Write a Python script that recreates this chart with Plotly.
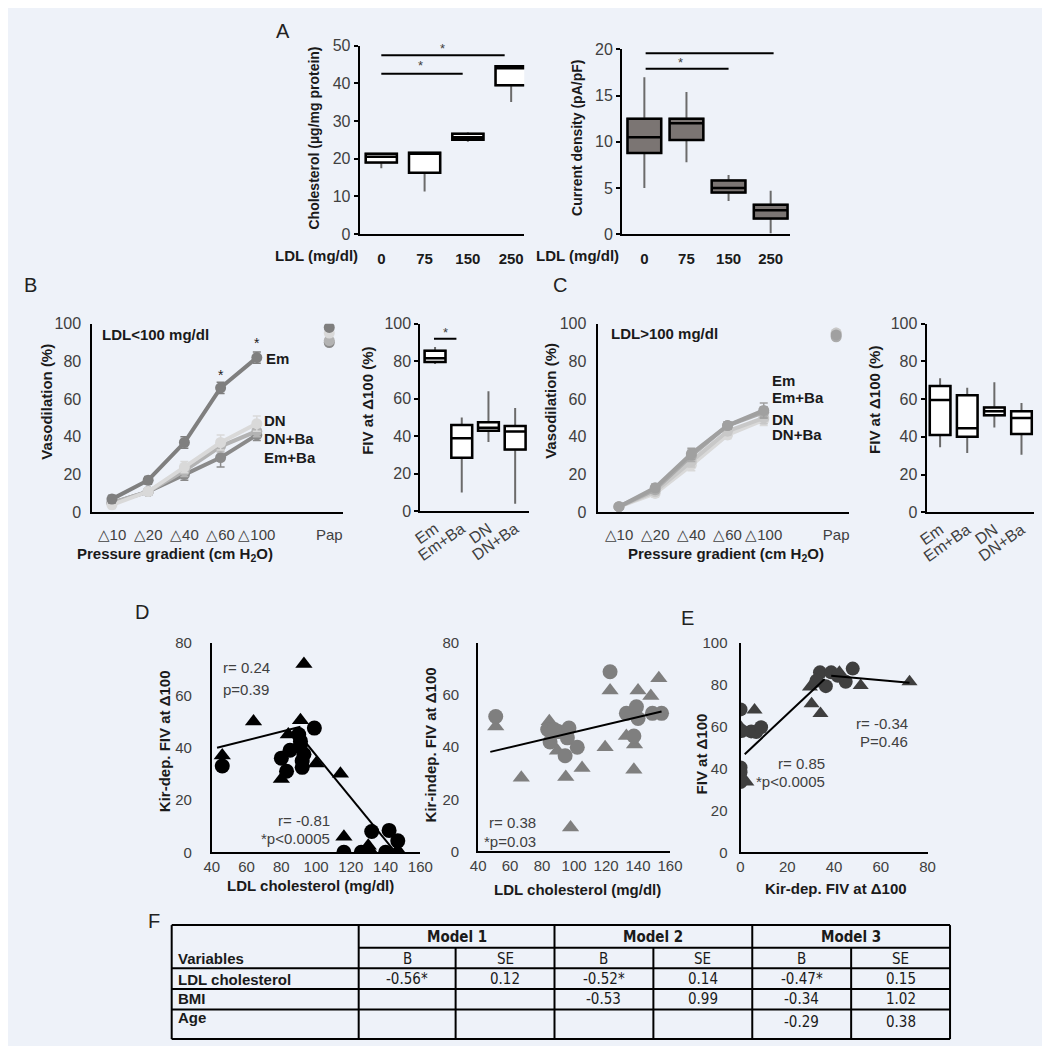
import plotly.graph_objects as go

W, H = 1050, 1046
BG = "#eef2f9"
FONT = "Liberation Sans, Arial, sans-serif"
NARROW = "Liberation Sans Narrow, Arial Narrow, DejaVu Sans Condensed, sans-serif"
TXT = "#404040"
DARK = "#1a1a1a"

# ---------------- data ----------------
ldl_doses = ["0", "75", "150", "250"]
box_pos = [1, 2, 3, 4]

# A: cholesterol content
chol_lo = [17.5, 11.3, 24.5, 35.0]
chol_q1 = [19.0, 16.3, 25.0, 39.5]
chol_med = [20.5, 21.5, 25.7, 44.0]
chol_q3 = [21.3, 21.6, 26.6, 44.5]
chol_hi = [21.6, 21.6, 27.0, 44.8]

# A: current density
cur_lo = [5.0, 7.8, 3.6, 0.1]
cur_q1 = [8.8, 10.2, 4.5, 1.7]
cur_med = [10.5, 12.0, 5.0, 2.6]
cur_q3 = [12.5, 12.5, 5.8, 3.2]
cur_hi = [17.0, 15.4, 6.4, 4.7]

# B / C: pressure gradient curves
grad_labels = ["△10", "△20", "△40", "△60", "△100", "Pap"]
grad_pos = [1, 2, 3, 4, 5]
pap_pos = [7]

b_em = [7, 17, 37, 66, 82]
b_em_err = [2, 2, 3, 3, 3]
b_emba = [5, 11, 20, 29, 41]
b_emba_err = [2, 2, 3, 5, 3]
b_dn = [4, 11, 24, 37, 47]
b_dn_err = [2, 2, 3, 4, 4]
b_dnba = [5, 11, 22, 35, 43]
b_dnba_err = [2, 2, 3, 3, 3]
b_pap = {"Em": 98, "Em+Ba": 90, "DN": 95, "DN+Ba": 91}

c_em = [3, 13, 31, 46, 54]
c_em_err = [1, 2, 3, 2, 4]
c_emba = [3, 12, 30, 46, 53]
c_emba_err = [1, 2, 3, 2, 3]
c_dn = [3, 11, 27, 43, 50]
c_dn_err = [1, 2, 3, 2, 3]
c_dnba = [3, 10, 25, 41, 49]
c_dnba_err = [1, 2, 3, 2, 3]
c_pap = {"Em": 94, "Em+Ba": 93, "DN": 95, "DN+Ba": 95}

groups = ["Em", "Em+Ba", "DN", "DN+Ba"]

# B / C: FIV at delta 100
b_fiv_lo = [78.5, 10, 37, 4]
b_fiv_q1 = [79.5, 28.5, 43, 33]
b_fiv_med = [81.5, 39, 44.5, 42.5]
b_fiv_q3 = [85.5, 46, 47.5, 45.5]
b_fiv_hi = [87.5, 50, 64, 55]

c_fiv_lo = [34.5, 31.5, 45, 30.5]
c_fiv_q1 = [41, 40, 51.5, 41.5]
c_fiv_med = [59.5, 44.5, 53.5, 50]
c_fiv_q3 = [67, 62, 55.5, 53.5]
c_fiv_hi = [71, 66, 69, 58]

# D: Kir-dependent FIV vs LDL
d_circ_x = [46, 80, 83, 85, 90, 91, 92, 92, 91, 99, 93, 116, 126, 128, 132, 142, 147, 140]
d_circ_y = [33, 36, 31, 39, 45, 41, 35, 32.5, 42.5, 47.5, 37.5, 0, 0, 0, 8, 8.4, 4.4, 0]
d_tri_x = [46, 64, 91, 93, 84, 80, 100, 114, 116, 130, 132, 146, 148]
d_tri_y = [37, 50, 50.5, 72, 45, 28, 34, 30, 6, 2.5, 0, 0, 0]
d_fit1_x = [43, 91]
d_fit1_y = [40, 48]
d_fit2_x = [89, 145]
d_fit2_y = [46, 0.6]

# E left: Kir-independent FIV vs LDL
e1_circ_x = [51, 83.5, 85, 90, 94.4, 96.8, 95.8, 102, 122.5, 132.7, 139, 140, 137.4, 149, 154.7, 87.6]
e1_circ_y = [51.8, 46.8, 42, 46, 36.7, 47.4, 43.6, 40, 69, 53, 55.5, 51, 44.3, 53, 53, 46.8]
e1_tri_x = [51, 67, 84.5, 89.6, 94.8, 97.8, 105, 119.4, 122.5, 132.7, 137.4, 137.8, 140, 148, 153]
e1_tri_y = [48, 28.3, 50, 38.6, 28.6, 9.2, 32, 40, 61.8, 44.3, 31.3, 41, 61.8, 59.7, 66.5]
e1_fit_x = [47.6, 154.7]
e1_fit_y = [38.2, 53.7]

# E right: FIV vs Kir-dependent FIV
e2_circ_x = [0, 0, 0, 0, 4.6, 6.7, 8.8, 0.5, 34, 38.8, 36.5, 45, 48, 41.6, 32.5]
e2_circ_y = [68.3, 40.6, 38.3, 33.6, 57.8, 57.5, 59.8, 58, 86, 86, 79.4, 81.5, 87.8, 84.4, 82]
e2_tri_x = [0, 2.5, 6, 29.7, 30.4, 34.2, 51.4, 72.3, 42.3]
e2_tri_y = [60, 33.6, 68, 79, 71, 66.4, 79.7, 81.5, 86]
e2_fit1_x = [1.8, 36]
e2_fit1_y = [46.9, 82.8]
e2_fit2_x = [38.8, 72.3]
e2_fit2_y = [84.4, 81]

# F: regression table
models = ["Model 1", "Model 2", "Model 3"]
sub_hdr = ["B", "SE", "B", "SE", "B", "SE"]
row_names = ["LDL cholesterol", "BMI", "Age"]
table_vals = [
    ["-0.56*", "0.12", "-0.52*", "0.14", "-0.47*", "0.15"],
    ["", "", "-0.53", "0.99", "-0.34", "1.02"],
    ["", "", "", "", "-0.29", "0.38"],
]


# ---------------- helpers ----------------
def px(x):
    return x / W


def py(y):
    return 1 - y / H


def xdom(a, b):
    return [px(a), px(b)]


def ydom(bottom, top):
    return [py(bottom), py(top)]


def axis(**kw):
    d = dict(showline=True, linecolor="black", linewidth=2, ticks="",
             ticklen=4, tickcolor="black", tickwidth=1.5, showgrid=False,
             zeroline=False, fixedrange=True,
             tickfont=dict(family=FONT, size=16, color=TXT))
    d.update(kw)
    return d


fig = go.Figure()
annots = []
shapes = []


def text(x, y, s, size=15, bold=False, color=DARK, angle=0, xanchor="center",
         family=FONT):
    annots.append(dict(x=px(x), y=py(y), xref="paper", yref="paper", text=s,
                       showarrow=False, textangle=angle, xanchor=xanchor,
                       yanchor="middle",
                       font=dict(family=family, size=size, color=color,
                                 weight="bold" if bold else "normal")))


def box_pair(ax, lo, q1, med, q3, hi, fill, width):
    # grey whiskers, then black box on top
    fig.add_trace(go.Box(x=box_pos, q1=q1, median=med, q3=q3, lowerfence=lo,
                         upperfence=hi, xaxis="x" + ax, yaxis="y" + ax,
                         line=dict(color="#6b6b6b", width=2), fillcolor=fill,
                         whiskerwidth=0, width=width, boxpoints=False,
                         hoverinfo="skip"))
    fig.add_trace(go.Box(x=box_pos, q1=q1, median=med, q3=q3, lowerfence=q1,
                         upperfence=q3, xaxis="x" + ax, yaxis="y" + ax,
                         line=dict(color="black", width=2.5), fillcolor=fill,
                         whiskerwidth=0, width=width, boxpoints=False))


def sig(ax, x0, x1, y, sx, sy):
    shapes.append(dict(type="line", xref="x" + ax, yref="y" + ax, x0=x0, x1=x1,
                       y0=y, y1=y, line=dict(color="black", width=2)))
    annots.append(dict(x=sx, y=sy, xref="x" + ax, yref="y" + ax, text="*",
                       showarrow=False,
                       font=dict(family=FONT, size=13, color=TXT)))


def curve(ax, yv, err, color, pap_y):
    fig.add_trace(go.Scatter(x=grad_pos, y=yv, xaxis="x" + ax, yaxis="y" + ax,
                             mode="lines+markers",
                             line=dict(color=color, width=4),
                             marker=dict(color=color, size=11),
                             error_y=dict(type="data", array=err, color=color,
                                          thickness=1.5, width=4)))
    fig.add_trace(go.Scatter(x=pap_pos, y=[pap_y], xaxis="x" + ax,
                             yaxis="y" + ax, mode="markers",
                             marker=dict(color=color, size=11)))


def scatter(ax, x, y, symbol, color, size):
    fig.add_trace(go.Scatter(x=x, y=y, xaxis="x" + ax, yaxis="y" + ax,
                             mode="markers",
                             marker=dict(symbol=symbol, color=color, size=size,
                                         line=dict(width=0))))


def fitline(ax, x, y):
    fig.add_trace(go.Scatter(x=x, y=y, xaxis="x" + ax, yaxis="y" + ax,
                             mode="lines", line=dict(color="black", width=2)))


# ---------------- panel A ----------------
box_pair("", chol_lo, chol_q1, chol_med, chol_q3, chol_hi, "white", 0.72)
box_pair("2", cur_lo, cur_q1, cur_med, cur_q3, cur_hi, "#7b7573", 0.8)
sig("", 1.0, 2.88, 42.5, 1.9, 44.6)
sig("", 1.0, 3.85, 47.4, 2.42, 49.2)
sig("2", 1.03, 3.0, 17.9, 1.87, 18.6)
sig("2", 1.03, 4.07, 19.6, 2.59, 20.3)

# ---------------- panel B / C curves ----------------
curve("3", b_emba, b_emba_err, "#8a8a8a", b_pap["Em+Ba"])
curve("3", b_dnba, b_dnba_err, "#b3b3b3", b_pap["DN+Ba"])
curve("3", b_dn, b_dn_err, "#d9d9d9", b_pap["DN"])
curve("3", b_em, b_em_err, "#7f7f7f", b_pap["Em"])
annots.append(dict(x=4, y=73, xref="x3", yref="y3", text="*", showarrow=False,
                   font=dict(family=FONT, size=14, color=DARK)))
annots.append(dict(x=5, y=90, xref="x3", yref="y3", text="*", showarrow=False,
                   font=dict(family=FONT, size=14, color=DARK)))

curve("5", c_dnba, c_dnba_err, "#d9d9d9", c_pap["DN+Ba"])
curve("5", c_dn, c_dn_err, "#c8c8c8", c_pap["DN"])
curve("5", c_emba, c_emba_err, "#ababab", c_pap["Em+Ba"])
curve("5", c_em, c_em_err, "#a0a0a0", c_pap["Em"])

box_pair("4", b_fiv_lo, b_fiv_q1, b_fiv_med, b_fiv_q3, b_fiv_hi, "white", 0.78)
sig("4", 0.96, 1.8, 92, 1.4, 95.5)
box_pair("6", c_fiv_lo, c_fiv_q1, c_fiv_med, c_fiv_q3, c_fiv_hi, "white", 0.76)

# ---------------- panel D / E ----------------
scatter("7", d_tri_x, d_tri_y, "triangle-up", "black", 15)
scatter("7", d_circ_x, d_circ_y, "circle", "black", 15)
fitline("7", d_fit1_x, d_fit1_y)
fitline("7", d_fit2_x, d_fit2_y)

scatter("8", e1_tri_x, e1_tri_y, "triangle-up", "#7f7f7f", 15)
scatter("8", e1_circ_x, e1_circ_y, "circle", "#7f7f7f", 15)
fitline("8", e1_fit_x, e1_fit_y)

scatter("9", e2_tri_x, e2_tri_y, "triangle-up", "#3f3f3f", 14)
scatter("9", e2_circ_x, e2_circ_y, "circle", "#3f3f3f", 14)
fitline("9", e2_fit1_x, e2_fit1_y)
fitline("9", e2_fit2_x, e2_fit2_y)

# ---------------- axes ----------------
bold_x = dict(family=FONT, size=15, color=DARK, weight="bold")
grad_font = dict(family=FONT, size=15, color=TXT)
sc_font = dict(family=FONT, size=15, color=TXT)
lay = {}
lay["xaxis"] = axis(domain=xdom(350, 518), range=[0.5, 4.3], tickvals=box_pos,
                    ticktext=ldl_doses, tickfont=bold_x, ticklabelstandoff=10,
                    anchor="y")
lay["yaxis"] = axis(domain=ydom(221, 29), range=[0, 50], dtick=10,
                    ticks="outside", anchor="x")
lay["xaxis2"] = axis(domain=xdom(618, 790), range=[0.47, 4.47], tickvals=box_pos,
                     ticktext=ldl_doses, tickfont=bold_x, ticklabelstandoff=10,
                     anchor="y2")
lay["yaxis2"] = axis(domain=ydom(221, 33), range=[0, 20], dtick=5,
                     ticks="outside", anchor="x2")

grad_ticks = grad_pos + pap_pos
lay["xaxis3"] = axis(domain=xdom(77, 333), range=[0.46, 7.38],
                     tickvals=grad_ticks, ticktext=grad_labels, tickangle=0,
                     tickfont=grad_font, ticklabelstandoff=8, anchor="y3")
lay["yaxis3"] = axis(domain=ydom(504, 312), range=[0, 100], dtick=20,
                     ticklabelstandoff=6, anchor="x3")
lay["xaxis4"] = axis(domain=xdom(412, 523), range=[0.45, 4.52],
                     tickvals=box_pos, ticktext=groups, tickangle=-35,
                     anchor="y4")
lay["yaxis4"] = axis(domain=ydom(503, 312), range=[0, 100], dtick=20,
                     ticks="outside", anchor="x4")
lay["xaxis5"] = axis(domain=xdom(593, 850), range=[0.41, 7.36],
                     tickvals=grad_ticks, ticktext=grad_labels, tickangle=0,
                     tickfont=grad_font, ticklabelstandoff=8, anchor="y5")
lay["yaxis5"] = axis(domain=ydom(504, 312), range=[0, 100], dtick=20,
                     ticklabelstandoff=6, anchor="x5")
lay["xaxis6"] = axis(domain=xdom(929, 1039), range=[0.5, 4.47],
                     tickvals=box_pos, ticktext=groups, tickangle=-35,
                     anchor="y6")
lay["yaxis6"] = axis(domain=ydom(504, 312), range=[0, 100], dtick=20,
                     ticks="outside", anchor="x6")

lay["xaxis7"] = axis(domain=xdom(199, 412), range=[40, 160], dtick=20,
                     tickfont=sc_font, anchor="y7")
lay["yaxis7"] = axis(domain=ydom(850, 637), range=[0, 80], dtick=20,
                     tickfont=sc_font, ticklabelstandoff=15, anchor="x7")
lay["xaxis8"] = axis(domain=xdom(471, 667), range=[40, 160], dtick=20,
                     tickfont=sc_font, anchor="y8")
lay["yaxis8"] = axis(domain=ydom(849, 637), range=[0, 80], dtick=20,
                     tickfont=sc_font, ticklabelstandoff=14, anchor="x8")
lay["xaxis9"] = axis(domain=xdom(739, 930), range=[0, 80], dtick=20,
                     tickfont=sc_font, anchor="y9")
lay["yaxis9"] = axis(domain=ydom(850, 637), range=[0, 100], dtick=20,
                     tickfont=sc_font, ticklabelstandoff=8, anchor="x9")

# ---------------- text labels ----------------
for s, x, y in [("A", 272, 14), ("B", 14, 273), ("C", 555, 273),
                ("D", 128, 605), ("E", 685, 612), ("F", 140, 920)]:
    text(x, y, s, size=20, color="#222222")

text(303, 123, "Cholesterol (µg/mg protein)", size=14, bold=True, angle=-90)
text(572, 123, "Current density (pA/pF)", size=14, bold=True, angle=-90)
text(306, 243, "LDL (mg/dl)", size=15, bold=True)
text(573, 243, "LDL (mg/dl)", size=15, bold=True)

text(30, 391, "Vasodilation (%)", size=15, bold=True, angle=-90)
text(161, 547, "Pressure gradient (cm H<sub>2</sub>O)", size=15, bold=True)
text(85, 323, "LDL<100 mg/dl", size=15, bold=True, xanchor="left")
text(252, 347, "Em", size=15, bold=True, xanchor="left")
text(250, 411, "DN", size=15, bold=True, xanchor="left")
text(250, 429, "DN+Ba", size=15, bold=True, xanchor="left")
text(250, 448, "Em+Ba", size=15, bold=True, xanchor="left")
text(358, 390, "FIV at Δ100 (%)", size=15, bold=True, angle=-90)

text(545, 391, "Vasodilation (%)", size=15, bold=True, angle=-90)
text(724, 547, "Pressure gradient (cm H<sub>2</sub>O)", size=15, bold=True)
text(605, 322, "LDL>100 mg/dl", size=15, bold=True, xanchor="left")
text(769, 370, "Em", size=15, bold=True, xanchor="left")
text(769, 387, "Em+Ba", size=15, bold=True, xanchor="left")
text(769, 410, "DN", size=15, bold=True, xanchor="left")
text(769, 425, "DN+Ba", size=15, bold=True, xanchor="left")
text(876, 390, "FIV at Δ100 (%)", size=15, bold=True, angle=-90)

text(150, 737, "Kir-dep. FIV at Δ100", size=15, bold=True, angle=-90)
text(300, 884, "LDL cholesterol (mg/dl)", size=15, bold=True)
text(208, 662, "r= 0.24", size=15, color=TXT, xanchor="left")
text(208, 684, "p=0.39", size=15, color=TXT, xanchor="left")
text(322, 818, "r= -0.81", size=15, color=TXT, xanchor="right")
text(322, 836, "*p<0.0005", size=15, color=TXT, xanchor="right")

text(422, 741, "Kir-indep. FIV at Δ100", size=15, bold=True, angle=-90)
text(573, 888, "LDL cholesterol (mg/dl)", size=15, bold=True)
text(532, 820, "r= 0.38", size=15, color=TXT, xanchor="right")
text(532, 839, "*p=0.03", size=15, color=TXT, xanchor="right")

text(699, 750, "FIV at Δ100", size=15, bold=True, angle=-90)
text(837, 887, "Kir-dep. FIV at Δ100", size=15, bold=True)
text(912, 719, "r= -0.34", size=15, color=TXT, xanchor="right")
text(912, 737, "P=0.46", size=15, color=TXT, xanchor="right")
text(827, 760, "r= 0.85", size=15, color=TXT, xanchor="right")
text(827, 778, "*p<0.0005", size=15, color=TXT, xanchor="right")

# ---------------- table F ----------------
cols = [158, 349, 448, 549, 650, 751, 852, 953]
rows = [924, 947, 968, 989, 1010, 1040]


def pline(x0, y0, x1, y1):
    shapes.append(dict(type="line", xref="paper", yref="paper", x0=px(x0),
                       y0=py(y0), x1=px(x1), y1=py(y1),
                       line=dict(color="black", width=2)))


pline(cols[0], rows[0], cols[-1], rows[0])
pline(cols[0], rows[-1], cols[-1], rows[-1])
pline(cols[1], rows[1], cols[-1], rows[1])
for r in rows[2:5]:
    pline(cols[0], r, cols[-1], r)
for c in [cols[0], cols[1], cols[3], cols[5], cols[7]]:
    pline(c, rows[0], c, rows[-1])
for c in [cols[2], cols[4], cols[6]]:
    pline(c, rows[1], c, rows[-1])

for i, m in enumerate(models):
    text((cols[1 + 2 * i] + cols[3 + 2 * i]) / 2, 936, m, size=15, bold=True,
         family=NARROW)
text(162, 958, "Variables", size=15, bold=True, xanchor="left")
for j, s in enumerate(sub_hdr):
    text((cols[1 + j] + cols[2 + j]) / 2, 958, s, size=15, family=NARROW)
row_y = [979, 999, 1023]
name_y = [979, 999, 1018]
for i, name in enumerate(row_names):
    text(162, name_y[i], name, size=15, bold=True, xanchor="left")
    for j, v in enumerate(table_vals[i]):
        if v:
            text((cols[1 + j] + cols[2 + j]) / 2, row_y[i], v, size=15,
                 family=NARROW)

fig.update_layout(width=W, height=H, margin=dict(l=0, r=0, t=0, b=0),
                  paper_bgcolor=BG, plot_bgcolor=BG, showlegend=False,
                  boxmode="overlay", annotations=annots, shapes=shapes,
                  font=dict(family=FONT), **lay)

fig.write_html("out.html")
